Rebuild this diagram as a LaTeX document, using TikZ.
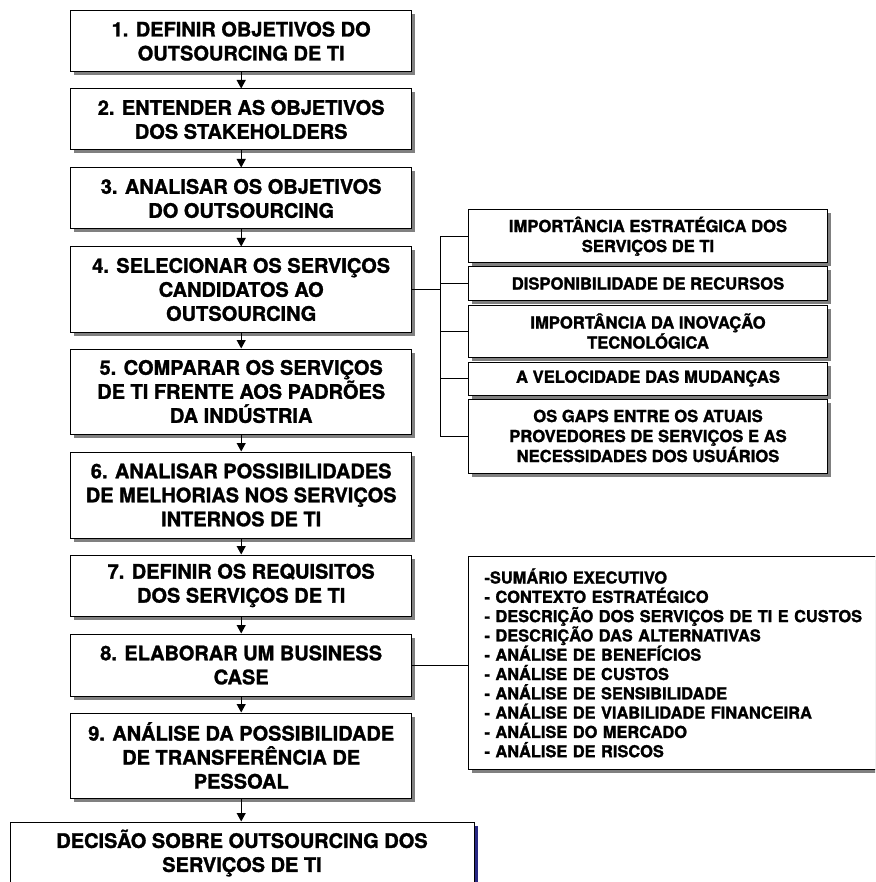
\documentclass[tikz,border=0pt]{standalone}
\usepackage{fontspec}
\setmainfont{TeX Gyre Heros}[BoldFeatures={FakeBold=1.4}]
\usetikzlibrary{arrows.meta,shadows}
\definecolor{shadowgray}{RGB}{128,128,128}
\definecolor{navybar}{RGB}{40,40,130}
\tikzset{
  shd/.style={drop shadow={shadow xshift=3.5pt, shadow yshift=-3.5pt, fill=shadowgray, opacity=1}},
  mainbox/.style={draw, line width=1pt, fill=white, minimum width=341pt, inner sep=0pt,
    align=center, font=\fontsize{20}{24}\selectfont\bfseries, shd},
  sidebox/.style={draw, line width=1pt, fill=white, minimum width=359.4pt, inner sep=0pt,
    align=center, font=\fontsize{16.6}{20}\selectfont\bfseries, shd},
  listbox/.style={draw, line width=1pt, fill=white, inner xsep=16pt, inner ysep=0pt,
    text width=396pt, align=left, font=\fontsize{16.4}{19.3}\selectfont\bfseries, shd},
  decbox/.style={draw, line width=1pt, fill=white, minimum width=464pt, inner sep=0pt,
    align=center, font=\fontsize{20}{24}\selectfont\bfseries,
    drop shadow={shadow xshift=3.5pt, shadow yshift=-3.5pt, fill=navybar, opacity=1}},
  arr/.style={line width=0.9pt, -{Triangle[length=8.5pt,width=9pt]}},
  conn/.style={line width=0.9pt}
}
\begin{document}
\begin{tikzpicture}[x=1pt,y=-1pt]
\useasboundingbox (0,0) rectangle (875,882);
\clip (0,0) rectangle (875,882);

% main column
\node[mainbox, minimum height=61pt] (b1) at (241.2,41.2) {1. DEFINIR OBJETIVOS DO\\OUTSOURCING DE TI};
\node[mainbox, minimum height=61pt] (b2) at (241.2,119.5) {2. ENTENDER AS OBJETIVOS\\DOS STAKEHOLDERS};
\node[mainbox, minimum height=61pt] (b3) at (241.2,198.5) {3. ANALISAR OS OBJETIVOS\\DO OUTSOURCING};
\node[mainbox, minimum height=85pt] (b4) at (241.2,289.5) {4. SELECIONAR OS SERVIÇOS\\CANDIDATOS AO\\OUTSOURCING};
\node[mainbox, minimum height=85pt] (b5) at (241.2,391.5) {5. COMPARAR OS SERVIÇOS\\DE TI FRENTE AOS PADRÕES\\DA INDÚSTRIA};
\node[mainbox, minimum height=86pt] (b6) at (241.2,495) {6. ANALISAR POSSIBILIDADES\\DE MELHORIAS NOS SERVIÇOS\\INTERNOS DE TI};
\node[mainbox, minimum height=61pt] (b7) at (241.2,585.5) {7. DEFINIR OS REQUISITOS\\DOS SERVIÇOS DE TI};
\node[mainbox, minimum height=62pt] (b8) at (241.2,665) {8. ELABORAR UM BUSINESS\\CASE};
\node[mainbox, minimum height=85pt] (b9) at (241.2,755.5) {9. ANÁLISE DA POSSIBILIDADE\\DE TRANSFERÊNCIA DE\\PESSOAL};
\node[decbox, minimum height=62pt] (dec) at (242,853) {DECISÃO SOBRE OUTSOURCING DOS\\SERVIÇOS DE TI};

\draw[arr] (b1.south) -- (b2.north);
\draw[arr] (b2.south) -- (b3.north);
\draw[arr] (b3.south) -- (b4.north);
\draw[arr] (b4.south) -- (b5.north);
\draw[arr] (b5.south) -- (b6.north);
\draw[arr] (b6.south) -- (b7.north);
\draw[arr] (b7.south) -- (b8.north);
\draw[arr] (b8.south) -- (b9.north);
\draw[arr] (b9.south) -- (dec.north -| b9.south);

% side boxes
\node[sidebox, minimum height=52.7pt] (sA) at (648,236.3) {IMPORTÂNCIA ESTRATÉGICA DOS\\SERVIÇOS DE TI};
\node[sidebox, minimum height=33pt] (sB) at (648,283.5) {DISPONIBILIDADE DE RECURSOS};
\node[sidebox, minimum height=52pt] (sC) at (648,331) {IMPORTÂNCIA DA INOVAÇÃO\\TECNOLÓGICA};
\node[sidebox, minimum height=33pt] (sD) at (648,378.5) {A VELOCIDADE DAS MUDANÇAS};
\node[sidebox, minimum height=74pt] (sE) at (648,436) {OS GAPS ENTRE OS ATUAIS\\PROVEDORES DE SERVIÇOS E AS\\NECESSIDADES DOS USUÁRIOS};

\coordinate (brk) at (440,0);
\draw[conn] (b4.east) -- (b4.east -| brk);
\draw[conn] (sA.west -| brk) -- (sE.west -| brk);
\draw[conn] (sA.west -| brk) -- (sA.west);
\draw[conn] (sB.west -| brk) -- (sB.west);
\draw[conn] (sC.west -| brk) -- (sC.west);
\draw[conn] (sD.west -| brk) -- (sD.west);
\draw[conn] (sE.west -| brk) -- (sE.west);

% business case list
\node[listbox, minimum height=212.3pt, anchor=west] (lst) at (468,662.9) {-SUMÁRIO EXECUTIVO\\
- CONTEXTO ESTRATÉGICO\\
- DESCRIÇÃO DOS SERVIÇOS DE TI E CUSTOS\\
- DESCRIÇÃO DAS ALTERNATIVAS\\
- ANÁLISE DE BENEFÍCIOS\\
- ANÁLISE DE CUSTOS\\
- ANÁLISE DE SENSIBILIDADE\\
- ANÁLISE DE VIABILIDADE FINANCEIRA\\
- ANÁLISE DO MERCADO\\
- ANÁLISE DE RISCOS};
\draw[conn] (b8.east) -- (b8.east -| lst.west);
\end{tikzpicture}
\end{document}
